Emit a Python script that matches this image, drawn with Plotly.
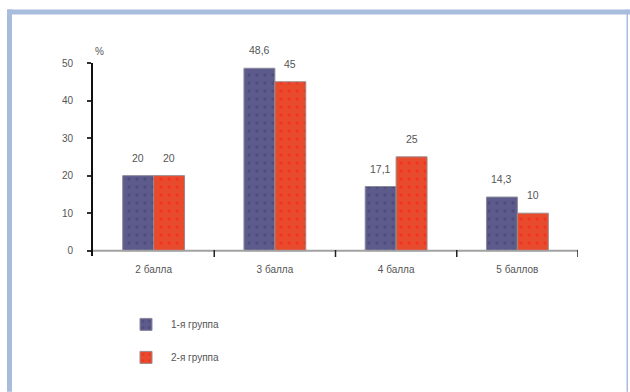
import plotly.graph_objects as go

# Grade distribution per group (percent of students)
categories = ["2 балла", "3 балла", "4 балла", "5 баллов"]
group1 = [20, 48.6, 17.1, 14.3]
group2 = [20, 45, 25, 10]
series_names = ["1-я группа", "2-я группа"]
y_ticks = [0, 10, 20, 30, 40, 50]

W, H = 630, 392
L, R, T, B = 93, 52, 62.7, 136
PW, PH = W - L - R, H - T - B

BLUE = "#5c5b8c"
RED = "#e84a2c"
TXT = "#555555"
FONT = "Liberation Sans"


def px_x(p):
    return (p - L) / PW


def px_y(p):
    return (H - B - p) / PH


fig = go.Figure()
fig.add_trace(go.Bar(
    x=categories, y=group1, name=series_names[0], legendgroup="g1",
    marker=dict(color=BLUE, line=dict(color="#8a8a9a", width=1),
                pattern=dict(shape=".", fgcolor="#3f3e6a", size=8, solidity=0.15)),
))
fig.add_trace(go.Bar(
    x=categories, y=group2, name=series_names[1], legendgroup="g2",
    marker=dict(color=RED, line=dict(color="#9a8a8a", width=1),
                pattern=dict(shape=".", fgcolor="#ff1a1a", size=8, solidity=0.15)),
))

bar_px = 31
annotations = []
for i, (a, b) in enumerate(zip(group1, group2)):
    for v, dx in ((a, -bar_px / 2), (b, bar_px / 2)):
        annotations.append(dict(
            x=i, y=v, xref="x", yref="y", text=f"{v:g}".replace(".", ","),
            showarrow=False, xshift=dx, yshift=18,
            font=dict(family=FONT, size=10.5, color=TXT),
        ))
annotations.append(dict(
    x=px_x(93), y=px_y(44), xref="paper", yref="paper", text="%",
    showarrow=False, font=dict(family=FONT, size=10, color=TXT),
))

shapes = []
# x axis baseline at zero
shapes.append(dict(type="line", xref="x", yref="y", x0=-0.5, x1=3.5, y0=0, y1=0,
                   line=dict(color="#a2a2a2", width=2)))
# category separator ticks below the baseline
for k in range(len(categories)):
    shapes.append(dict(type="line", xref="x", yref="paper", x0=k + 0.5, x1=k + 0.5,
                       y0=px_y(250), y1=px_y(257), line=dict(color="#222222", width=1.5)))
# light blue frame around the chart
FRAME = "#a8bcdc"
shapes.append(dict(type="rect", xref="paper", yref="paper", x0=px_x(7), x1=px_x(12),
                   y0=px_y(392), y1=px_y(9), fillcolor=FRAME, line=dict(width=0), layer="below"))
shapes.append(dict(type="rect", xref="paper", yref="paper", x0=px_x(7), x1=px_x(630),
                   y0=px_y(14), y1=px_y(9), fillcolor=FRAME, line=dict(width=0), layer="below"))
shapes.append(dict(type="rect", xref="paper", yref="paper", x0=px_x(626.5), x1=px_x(628),
                   y0=px_y(392), y1=px_y(9), fillcolor=FRAME, line=dict(width=0), layer="below"))

fig.update_layout(
    width=W, height=H,
    margin=dict(l=L, r=R, t=T, b=B, pad=0),
    paper_bgcolor="white", plot_bgcolor="rgba(0,0,0,0)",
    barmode="group", bargap=0.49, bargroupgap=0,
    separators=", ",
    font=dict(family=FONT, size=10, color=TXT),
    showlegend=True,
    legend=dict(x=px_x(121), y=px_y(310), xanchor="left", yanchor="top",
                itemwidth=40, tracegroupgap=14,
                font=dict(family=FONT, size=10, color=TXT),
                bgcolor="rgba(0,0,0,0)"),
    annotations=annotations,
    shapes=shapes,
)
fig.update_xaxes(range=[-0.5, 3.5], showgrid=False, zeroline=False, showline=False,
                 ticks="", tickfont=dict(family=FONT, size=10, color=TXT),
                 ticklabelstandoff=6)
fig.update_yaxes(range=[-1.4, 50], tickvals=y_ticks, showgrid=False, zeroline=False,
                 showline=True, linecolor="#111111", linewidth=2,
                 ticks="outside", ticklen=4, tickwidth=2, tickcolor="#333333",
                 tickfont=dict(family=FONT, size=10, color=TXT), ticklabelstandoff=12)

fig.write_html("out.html")
